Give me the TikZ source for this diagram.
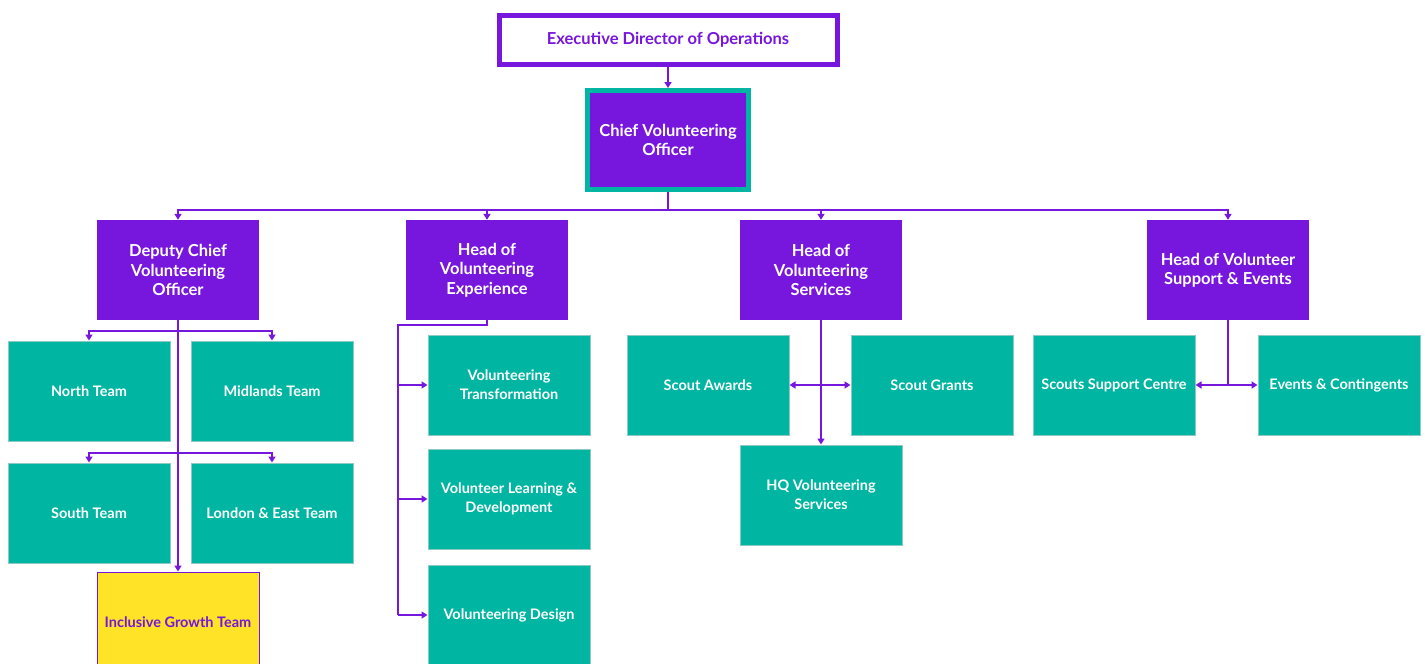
\documentclass[tikz,border=0pt]{standalone}
\usepackage{fontspec}
\setmainfont{Lato}
\usetikzlibrary{arrows.meta}
\definecolor{vpurple}{HTML}{7716DC}
\definecolor{vteal}{HTML}{00B5A1}
\definecolor{vtealedge}{HTML}{8FC9C4}
\definecolor{vyellow}{HTML}{FFE326}
\tikzset{
  base/.style={rectangle, align=center, inner sep=0pt, font=\bfseries\fontsize{16.5}{19.5}\selectfont},
  exec/.style={base, draw=vpurple, line width=5pt, fill=white, text=vpurple, minimum width=338pt, minimum height=49pt},
  chiefbox/.style={base, draw=vteal, line width=5pt, fill=vpurple, text=white, minimum width=161pt, minimum height=99pt},
  headbox/.style={base, fill=vpurple, text=white, minimum width=162pt, minimum height=100pt},
  teambox/.style={base, draw=vtealedge, line width=1pt, fill=vteal, text=white, minimum width=162pt, minimum height=100pt, font=\bfseries\fontsize{14.5}{19}\selectfont},
  incbox/.style={teambox, draw=vpurple, fill=vyellow, text=vpurple},
  conn/.style={draw=vpurple, line width=1.5pt},
  arr/.style={conn, -{Triangle[width=7pt,length=6pt]}},
}
\begin{document}
\begin{tikzpicture}[x=1pt,y=-1pt]
\fill[white] (0,0) rectangle (1425,664);
\clip (0,0) rectangle (1425,664);
% nodes
\node[exec] (exec) at (668,40) {Executive Director of Operations};
\node[chiefbox] (chief) at (668,140) {Chief Volunteering\\Officer};
\node[headbox] (dep) at (178,270) {Deputy Chief\\Volunteering\\Officer};
\node[headbox] (hove) at (487,270) {Head of\\Volunteering\\Experience};
\node[headbox] (hovs) at (821,270) {Head of\\Volunteering\\Services};
\node[headbox] (hovse) at (1228,270) {Head of Volunteer\\Support \& Events};
\node[teambox] (north) at (89,391) {North Team};
\node[teambox] (mid) at (272,391) {Midlands Team};
\node[teambox] (south) at (89,513) {South Team};
\node[teambox] (lon) at (272,513) {London \& East Team};
\node[incbox] (inc) at (178,622) {Inclusive Growth Team};
\node[teambox] (vt) at (509,385) {Volunteering\\Transformation};
\node[teambox] (vld) at (509,499) {Volunteer Learning \&\\Development};
\node[teambox] (vd) at (509,615) {Volunteering Design};
\node[teambox] (sa) at (708,385) {Scout Awards};
\node[teambox] (sg) at (932,385) {Scout Grants};
\node[teambox] (hq) at (821,495) {HQ Volunteering\\Services};
\node[teambox] (ssc) at (1114,385) {Scouts Support Centre};
\node[teambox] (ev) at (1339,385) {Events \& Contingents};
% top connectors
\draw[arr] (exec) -- (chief);
\coordinate (hb) at (668,210);
\draw[conn] (chief.south) -- (hb);
\draw[arr] (hb) -| (dep.north);
\draw[arr] (hb) -| (hove.north);
\draw[arr] (hb) -| (hovs.north);
\draw[arr] (hb) -| (hovse.north);
% deputy
\draw[arr] (dep.south) -- (inc.north);
\coordinate (d1) at (178,331);
\coordinate (d2) at (178,453);
\draw[arr] (d1) -| (north.north);
\draw[arr] (d1) -| (mid.north);
\draw[arr] (d2) -| (south.north);
\draw[arr] (d2) -| (lon.north);
% experience
\coordinate (e1) at (487,325);
\coordinate (e2) at (398,325);
\draw[conn] (hove.south) -- (e1) -- (e2) -- (e2 |- vd.west);
\draw[arr] (e2 |- vt.west) -- (vt.west);
\draw[arr] (e2 |- vld.west) -- (vld.west);
\draw[arr] (e2 |- vd.west) -- (vd.west);
% services
\draw[arr] (hovs.south) -- (hq.north);
\coordinate (s1) at (hovs.south |- sa.east);
\draw[arr] (s1) -- (sa.east);
\draw[arr] (s1) -- (sg.west);
% support & events
\coordinate (u1) at (hovse.south |- ssc.east);
\draw[conn] (hovse.south) -- (u1);
\draw[arr] (u1) -- (ssc.east);
\draw[arr] (u1) -- (ev.west);
\end{tikzpicture}
\end{document}
